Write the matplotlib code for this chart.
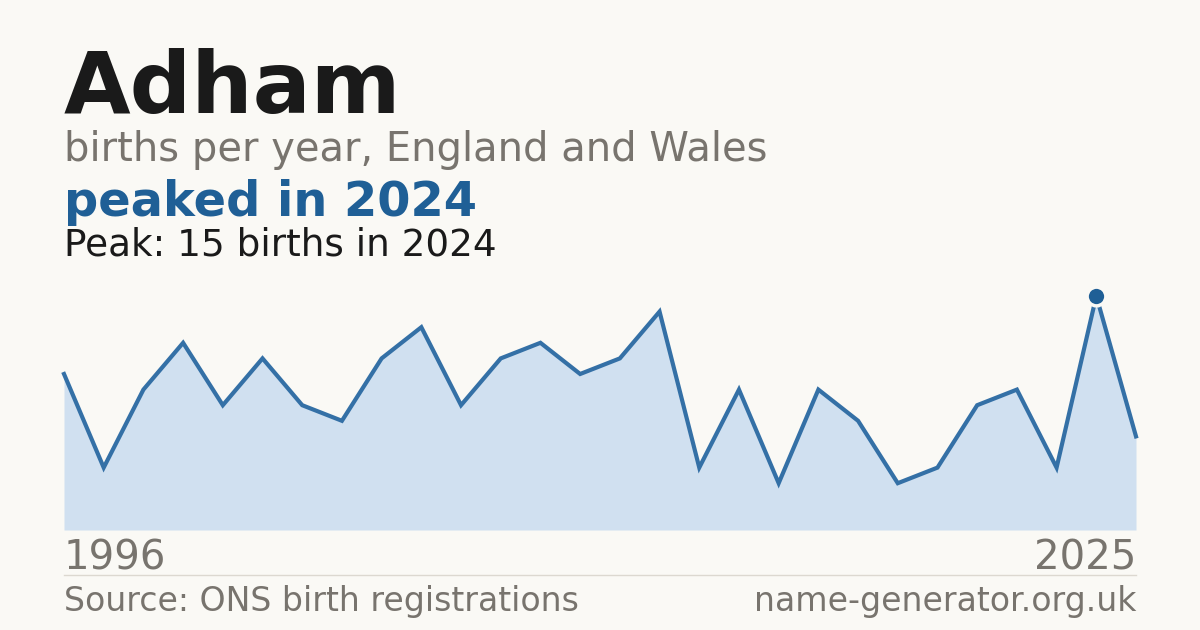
import matplotlib
matplotlib.use("Agg")
import matplotlib.pyplot as plt

# Data (index-spaced points; first/last labelled)
years = [1996, 1997, 1998, 1999, 2000, 2001, 2002, 2003, 2004, 2005,
         2006, 2007, 2008, 2009, 2010, 2011, 2013, 2014, 2015, 2016,
         2017, 2018, 2019, 2020, 2021, 2023, 2024, 2025]
births = [10, 4, 9, 12, 8, 11, 8, 7, 11, 13,
          8, 11, 12, 10, 11, 14, 4, 9, 3, 9,
          7, 3, 4, 8, 9, 4, 15, 6]
peak_year = 2024
peak_value = 15

BG = "#faf9f5"
LINE = "#3470a6"
FILL = "#d0e0f0"
DARK = "#1a1a1a"
GREY = "#78746e"
BLUE = "#1f5f96"

W, H = 1200, 630
plt.rcParams['font.family'] = ['DejaVu Sans']
fig = plt.figure(figsize=(W / 100, H / 100), dpi=100, facecolor=BG)

def fy(y):
    return 1 - y / H

# plot area
left, right, bottom, top = 64, 1136, 530, 260
ax = fig.add_axes([left / W, (H - bottom) / H, (right - left) / W, (bottom - top) / H])
ax.set_facecolor(BG)
xs = list(range(len(years)))
px_per_unit = 15.6
ax.set_ylim(0, (bottom - top) / px_per_unit)
ax.set_xlim(0, len(years) - 1)
ax.fill_between(xs, births, 0, color=FILL, linewidth=0)
ax.plot(xs, births, color=LINE, linewidth=3.0, solid_joinstyle='miter', clip_on=False)
pi = years.index(peak_year)
ax.plot([xs[pi]], [births[pi]], 'o', color=BLUE, markersize=13.5,
        markeredgecolor=BG, markeredgewidth=2.5, clip_on=False, zorder=5)
ax.axis('off')

# texts
fig.text(64 / W, fy(113), "Adham", fontsize=62, fontweight='bold', color=DARK, va='baseline', ha='left')
fig.text(64 / W, fy(161), "births per year, England and Wales", fontsize=28.8, color=GREY, va='baseline', ha='left')
fig.text(64 / W, fy(216), f"peaked in {peak_year}", fontsize=34.5, fontweight='bold', color=BLUE, va='baseline', ha='left')
fig.text(64 / W, fy(256), f"Peak: {peak_value} births in {peak_year}", fontsize=26.9, color=DARK, va='baseline', ha='left')

fig.text(64 / W, fy(570), str(years[0]), fontsize=29, color=GREY, va='baseline', ha='left')
fig.text(1136 / W, fy(570), str(years[-1]), fontsize=29, color=GREY, va='baseline', ha='right')

fig.add_artist(plt.Line2D([64 / W, 1136 / W], [fy(574.5), fy(574.5)], color="#dcd8d0", linewidth=1))

fig.text(64 / W, fy(611), "Source: ONS birth registrations", fontsize=23.9, color=GREY, va='baseline', ha='left')
fig.text(1136 / W, fy(611), "name-generator.org.uk", fontsize=23.9, color=GREY, va='baseline', ha='right')

fig.savefig("out.png", dpi=100, facecolor=BG)
